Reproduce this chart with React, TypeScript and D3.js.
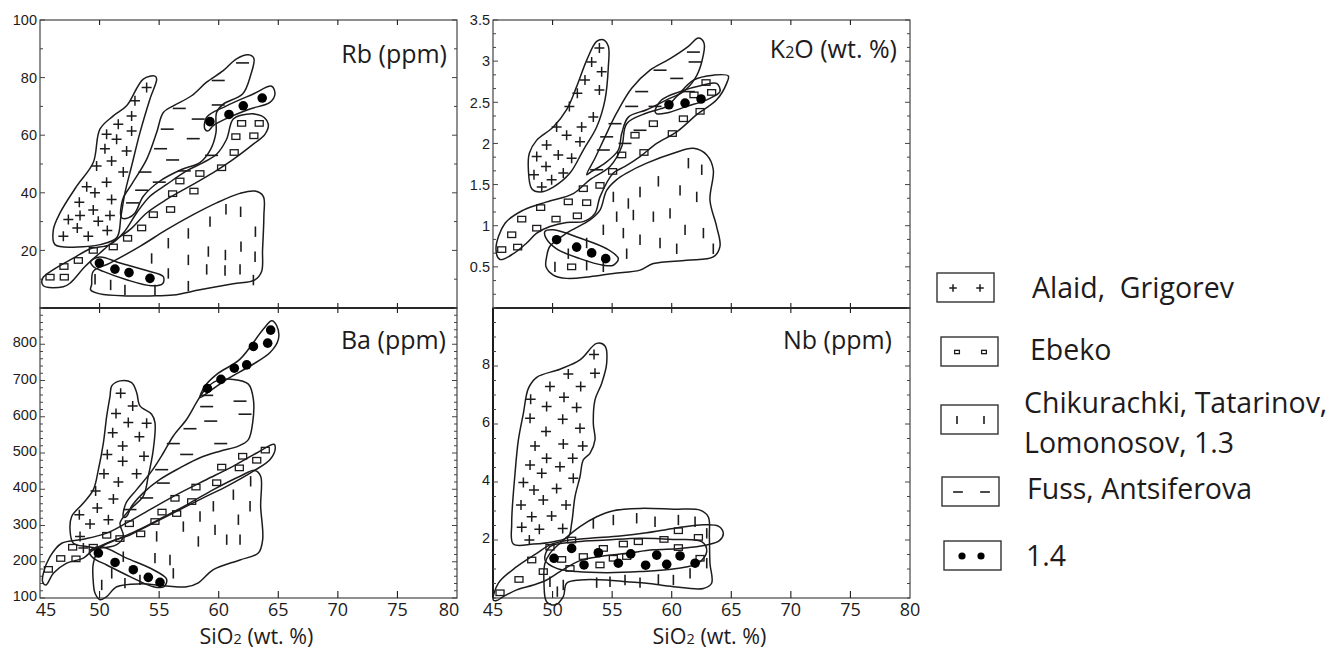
import * as d3 from 'd3'

type P = [number, number]
type Kind = 'plus' | 'square' | 'bar' | 'dash' | 'dot'

const SIO2_TICKS = [45, 50, 55, 60, 65, 70, 75, 80]

// ---- Rb (ppm) ----
const rbTicks = [20, 40, 60, 80, 100]
const rbAlaid: P[] = [[46.26, 22.0], [46.12, 27.2], [46.68, 33.0], [48.08, 42.3], [49.47, 50.5], [50.03, 62.1], [51.15, 66.7], [52.27, 70.2], [53.67, 79.5], [54.65, 80.5], [54.79, 79.5], [54.23, 72.6], [53.39, 60.9], [52.69, 49.3], [52.13, 40.0], [51.8, 32.0], [51.45, 24.5], [50.03, 22.0], [48.64, 21.3]]
const rbAlaidPts: P[] = [[53.95, 76.6], [52.97, 72.0], [52.69, 66.7], [51.57, 63.8], [52.69, 61.5], [50.59, 60.3], [51.43, 58.6], [50.45, 55.3], [52.27, 54.5], [49.75, 49.3], [51.01, 51.0], [51.99, 47.2], [50.59, 43.7], [48.92, 42.1], [49.61, 40.0], [48.3, 36.7], [51.01, 37.7], [49.47, 34.0], [48.36, 32.1], [47.38, 30.7], [50.87, 32.1], [49.89, 30.1], [48.13, 27.8], [46.96, 24.9], [49.05, 24.9], [50.65, 26.9]]
const rbFuss: P[] = [[51.85, 31.3], [51.94, 37.7], [52.69, 42.9], [53.95, 51.6], [54.79, 60.9], [55.35, 67.9], [56.19, 70.2], [57.72, 73.7], [58.98, 78.4], [60.38, 82.4], [61.5, 86.5], [62.48, 87.9], [62.95, 86.7], [62.67, 80.7], [62.0, 74.3], [60.38, 70.8], [59.82, 67.9], [59.77, 60.9], [59.32, 55.1], [58.42, 50.5], [56.88, 48.1], [55.07, 44.1], [53.67, 38.8], [52.97, 33.0], [52.41, 31.3]]
const rbFussPts: P[] = [[62.0, 85.1], [59.96, 79.0], [56.69, 69.3], [58.28, 65.6], [59.96, 70.5], [55.68, 62.1], [57.86, 58.8], [55.12, 55.3], [56.13, 51.4], [53.81, 47.2], [57.11, 47.6], [55.01, 43.7], [53.53, 40.9], [52.77, 36.5], [59.4, 53.0]]
const rbEbeko: P[] = [[45.28, 7.7], [45.22, 10.3], [46.12, 13.3], [47.8, 17.3], [49.19, 20.5], [50.87, 22.0], [51.99, 26.0], [53.11, 33.0], [54.23, 38.8], [55.63, 42.9], [57.3, 47.6], [58.7, 50.5], [59.82, 53.4], [60.66, 58.6], [61.22, 65.6], [62.34, 67.3], [63.6, 66.7], [64.16, 63.8], [63.88, 60.3], [62.9, 56.9], [61.22, 51.6], [59.54, 47.0], [57.58, 42.3], [55.63, 37.7], [53.95, 33.0], [52.55, 27.2], [51.15, 23.1], [50.03, 19.1], [48.78, 14.4], [47.52, 8.6], [46.96, 7.4]]
const rbEbekoPts: P[] = [[45.84, 10.7], [47.04, 10.7], [47.01, 14.4], [48.22, 16.5], [49.47, 20.0], [51.15, 21.2], [52.35, 24.2], [53.53, 27.8], [54.51, 32.4], [55.96, 34.2], [56.13, 39.7], [56.74, 44.1], [57.92, 40.6], [58.42, 46.7], [60.24, 48.7], [61.3, 54.0], [61.44, 59.5], [62.95, 59.8], [61.92, 64.1], [63.4, 64.1]]
const rbChik: P[] = [[49.33, 8.0], [49.47, 12.7], [50.87, 15.6], [53.39, 21.4], [55.63, 27.2], [57.86, 32.4], [59.82, 36.5], [61.78, 39.8], [63.04, 40.6], [63.74, 38.8], [63.79, 31.9], [63.68, 20.2], [63.6, 12.7], [63.04, 9.8], [61.22, 8.4], [58.42, 6.3], [56.19, 4.5], [54.23, 4.2], [52.27, 4.2], [50.03, 4.9], [49.25, 6.3]]
const rbChikPts: P[] = [[60.61, 34.3], [61.84, 33.4], [63.08, 26.5], [59.27, 30.0], [57.45, 25.9], [55.77, 22.5], [61.87, 21.3], [60.56, 18.4], [59.13, 19.6], [63.05, 17.8], [57.45, 16.7], [54.37, 17.2], [55.77, 12.0], [58.99, 13.4], [60.53, 13.0], [61.79, 13.4], [52.13, 6.3], [54.65, 6.3], [57.45, 7.6], [50.93, 8.0], [49.62, 10.0], [62.91, 9.7]]
const rbDotsLow: P[] = [[49.25, 16.2], [50.03, 17.7], [51.71, 15.6], [53.95, 13.0], [55.35, 10.9], [55.29, 8.4], [54.37, 7.7], [52.27, 9.8], [50.31, 12.7], [49.47, 14.4]]
const rbDotsHigh: P[] = [[58.84, 62.1], [58.98, 66.2], [60.66, 70.2], [62.9, 74.3], [64.44, 77.0], [64.72, 74.3], [64.3, 71.4], [62.62, 69.1], [60.66, 65.8], [59.54, 63.3], [59.12, 61.5]]
const rb14Pts: P[] = [[49.98, 15.6], [51.29, 13.5], [52.47, 12.3], [54.23, 10.3], [59.26, 64.7], [60.86, 67.2], [62.06, 70.2], [63.65, 72.9]]

// ---- K2O (wt. %) ----
const k2oTicks = [0.5, 1, 1.5, 2, 2.5, 3, 3.5]
const k2oAlaid: P[] = [[53.7, 3.24], [54.26, 3.26], [54.68, 3.18], [54.68, 2.93], [54.4, 2.53], [53.7, 2.2], [52.58, 1.92], [51.46, 1.64], [50.06, 1.47], [48.95, 1.41], [48.25, 1.45], [47.97, 1.68], [48.05, 1.88], [48.67, 2.04], [50.06, 2.2], [51.18, 2.41], [52.02, 2.69], [52.86, 3.01]]
const k2oAlaidPts: P[] = [[53.93, 3.16], [53.28, 2.99], [54.12, 2.87], [52.72, 2.77], [52.08, 2.61], [53.93, 2.65], [51.41, 2.45], [53.42, 2.32], [52.44, 2.2], [50.34, 2.2], [51.18, 2.1], [52.3, 2.02], [49.5, 1.98], [50.48, 1.86], [48.67, 1.84], [51.6, 1.82], [49.45, 1.72], [50.9, 1.64], [48.44, 1.62], [49.92, 1.56], [49.09, 1.47]]
const k2oFuss: P[] = [[52.86, 1.62], [53.56, 1.82], [54.4, 2.08], [55.38, 2.37], [56.64, 2.67], [58.18, 2.89], [59.86, 3.03], [61.4, 3.18], [62.24, 3.28], [62.71, 3.22], [62.52, 2.99], [61.96, 2.79], [60.98, 2.63], [59.58, 2.53], [57.9, 2.41], [56.36, 2.32], [55.8, 2.12], [55.52, 1.92], [54.4, 1.76], [53.28, 1.66]]
const k2oFussPts: P[] = [[61.82, 3.11], [61.96, 2.99], [59.02, 2.89], [60.42, 2.79], [57.48, 2.63], [61.4, 2.63], [56.64, 2.45], [58.6, 2.45], [55.24, 2.24], [57.34, 2.16], [54.54, 2.08], [56.08, 2.0], [54.26, 1.92], [53.7, 1.68]]
const k2oEbeko: P[] = [[45.25, 0.72], [46.01, 1.03], [47.55, 1.19], [49.5, 1.29], [51.74, 1.39], [53.14, 1.56], [54.82, 1.72], [55.8, 1.96], [56.22, 2.24], [57.9, 2.37], [59.58, 2.45], [60.42, 2.57], [61.82, 2.77], [63.49, 2.83], [64.75, 2.82], [64.61, 2.73], [63.77, 2.53], [62.1, 2.35], [60.42, 2.14], [58.74, 2.0], [57.34, 1.84], [56.08, 1.72], [55.1, 1.64], [53.98, 1.35], [53.56, 1.15], [52.58, 1.05], [51.18, 1.04], [49.78, 0.99], [48.67, 0.91], [47.83, 0.79], [46.71, 0.66], [45.59, 0.59]]
const k2oEbekoPts: P[] = [[45.73, 0.71], [47.07, 0.74], [46.57, 0.89], [48.67, 0.97], [47.41, 1.08], [50.29, 1.08], [49.0, 1.22], [52.08, 1.12], [51.32, 1.29], [52.86, 1.28], [52.58, 1.45], [53.98, 1.49], [55.04, 1.66], [55.8, 1.86], [57.67, 1.89], [56.92, 2.1], [58.46, 2.24], [60.05, 2.12], [60.98, 2.3], [62.38, 2.39], [61.87, 2.59], [63.35, 2.62], [62.88, 2.74], [51.6, 0.5]]
const k2oChik: P[] = [[49.5, 0.62], [49.78, 0.75], [51.18, 0.91], [53.14, 1.07], [53.98, 1.19], [54.54, 1.43], [55.38, 1.56], [56.22, 1.64], [57.9, 1.76], [60.14, 1.88], [61.82, 1.94], [62.94, 1.86], [63.49, 1.68], [63.21, 1.31], [63.77, 0.99], [64.05, 0.75], [63.49, 0.62], [61.26, 0.58], [58.46, 0.54], [57.34, 0.46], [55.1, 0.42], [53.14, 0.38], [51.18, 0.36], [50.06, 0.4], [49.45, 0.5]]
const k2oChikPts: P[] = [[61.4, 1.76], [62.52, 1.68], [60.7, 1.43], [62.1, 1.35], [58.88, 1.54], [57.34, 1.41], [56.36, 1.27], [55.1, 1.35], [55.38, 1.11], [56.78, 1.13], [58.46, 1.11], [59.86, 1.15], [61.12, 0.95], [62.66, 0.91], [63.49, 0.72], [60.42, 0.72], [57.34, 0.83], [55.94, 0.91], [54.26, 0.95], [52.86, 0.79], [54.26, 0.5], [52.86, 0.52], [50.2, 0.5], [51.32, 0.66], [59.02, 0.79], [56.22, 0.66]]
const k2oDotsLow: P[] = [[49.36, 0.93], [50.06, 0.95], [52.3, 0.85], [54.54, 0.72], [55.52, 0.6], [55.1, 0.52], [54.26, 0.52], [52.3, 0.6], [50.34, 0.72], [49.45, 0.85]]
const k2oDotsHigh: P[] = [[58.6, 2.39], [59.16, 2.53], [60.7, 2.63], [62.66, 2.71], [63.77, 2.73], [64.05, 2.63], [62.94, 2.53], [61.26, 2.45], [59.58, 2.37], [58.74, 2.36]]
const k2o14Pts: P[] = [[50.34, 0.83], [52.02, 0.74], [53.28, 0.67], [54.46, 0.6], [59.77, 2.47], [61.12, 2.49], [62.46, 2.54]]

// ---- Ba (ppm) ----
const baTicks = [100, 200, 300, 400, 500, 600, 700, 800]
const baAlaid: P[] = [[51.02, 685], [51.72, 699], [52.69, 694], [53.11, 667], [53.39, 630], [54.37, 607], [54.65, 584], [54.51, 510], [54.09, 436], [53.67, 381], [52.55, 344], [51.72, 307], [52.0, 270], [51.44, 247], [50.04, 238], [48.92, 242], [47.8, 251], [47.52, 288], [47.66, 325], [48.64, 362], [49.48, 399], [49.9, 454], [50.32, 528], [50.6, 602], [50.88, 657]]
const baAlaidPts: P[] = [[51.77, 665], [52.78, 630], [51.38, 609], [52.41, 584], [53.95, 582], [51.1, 556], [53.34, 545], [51.94, 519], [50.65, 496], [53.73, 491], [51.94, 477], [53.11, 443], [50.37, 443], [51.58, 420], [49.67, 395], [51.16, 373], [49.81, 348], [48.3, 330], [50.74, 316], [49.2, 304], [48.36, 270], [48.64, 238]]
const baFuss: P[] = [[52.0, 323], [52.22, 362], [53.11, 399], [54.37, 450], [55.35, 500], [56.19, 547], [57.31, 593], [58.29, 648], [58.99, 680], [59.83, 699], [61.23, 703], [62.49, 690], [62.91, 648], [62.85, 584], [62.49, 537], [61.65, 519], [60.11, 505], [58.43, 487], [56.75, 459], [55.07, 427], [53.67, 390], [52.69, 353], [52.27, 325]]
const baFussPts: P[] = [[58.99, 659], [61.79, 643], [58.99, 628], [62.21, 607], [59.33, 588], [57.59, 567], [56.19, 526], [60.17, 526], [57.31, 496], [55.21, 454], [55.35, 417], [53.95, 376], [52.55, 344]]
const baEbeko: P[] = [[45.28, 168], [45.84, 214], [46.82, 251], [48.64, 262], [50.6, 279], [52.27, 307], [54.23, 344], [56.75, 390], [58.99, 427], [61.23, 464], [63.19, 500], [64.64, 524], [64.75, 514], [64.31, 482], [62.91, 450], [60.67, 408], [58.99, 381], [56.75, 344], [54.23, 302], [52.27, 270], [51.16, 259], [49.48, 233], [48.64, 210], [47.24, 196], [46.12, 168], [45.5, 136], [45.22, 145]]
const baEbekoPts: P[] = [[45.7, 179], [46.74, 209], [48.02, 208], [47.74, 240], [50.6, 273], [51.71, 264], [52.5, 305], [53.45, 277], [54.65, 311], [55.24, 337], [56.47, 333], [56.33, 375], [57.73, 366], [58.09, 406], [59.83, 418], [60.25, 461], [61.73, 459], [62.01, 491], [63.19, 480], [63.91, 508], [49.47, 240]]
const baChik: P[] = [[49.48, 141], [49.62, 113], [50.04, 95], [50.6, 104], [51.44, 131], [53.39, 139], [55.63, 133], [57.31, 131], [58.29, 142], [59.55, 178], [61.79, 205], [63.32, 224], [63.69, 261], [63.52, 353], [63.52, 436], [63.04, 452], [61.79, 436], [59.55, 399], [57.31, 357], [55.35, 323], [53.39, 290], [51.44, 261], [50.04, 238], [49.48, 196]]
const baChikPts: P[] = [[62.68, 422], [62.63, 353], [61.23, 385], [61.65, 316], [59.55, 353], [59.69, 288], [58.43, 325], [58.29, 256], [57.03, 297], [55.91, 205], [54.65, 210], [53.39, 150], [51.99, 214], [52.13, 141], [51.02, 168], [50.18, 136], [56.19, 168], [61.79, 261], [60.67, 261], [54.79, 270]]
const baDotsLow: P[] = [[49.14, 228], [50.04, 242], [52.27, 210], [54.51, 178], [55.63, 152], [55.41, 131], [54.51, 131], [52.55, 159], [50.6, 191], [49.48, 210]]
const baDotsHigh: P[] = [[58.43, 653], [58.85, 685], [59.83, 717], [61.79, 759], [63.75, 842], [64.45, 865], [64.87, 851], [65.01, 814], [64.31, 777], [62.63, 740], [60.67, 703], [59.27, 671]]
const ba14Pts: P[] = [[49.9, 224], [51.3, 198], [52.83, 178], [54.09, 157], [55.07, 143], [59.05, 678], [60.19, 703], [61.31, 734], [62.35, 743], [62.91, 794], [64.11, 803], [64.36, 839]]

// ---- Nb (ppm) ----
const nbTicks = [2, 4, 6, 8]
const nbAlaid: P[] = [[46.71, 1.86], [46.57, 2.57], [46.85, 4.3], [47.13, 5.45], [47.55, 6.37], [47.97, 7.23], [48.67, 7.61], [50.62, 7.89], [52.3, 8.21], [53.7, 8.78], [54.4, 8.69], [54.54, 8.09], [54.12, 7.4], [53.56, 6.83], [53.42, 6.02], [53.56, 5.45], [53.14, 4.99], [52.58, 4.76], [52.3, 4.18], [51.88, 3.49], [51.6, 2.57], [51.32, 2.11], [50.06, 1.94], [48.39, 1.86]]
const nbAlaidPts: P[] = [[53.48, 8.4], [53.56, 7.75], [51.32, 7.72], [49.78, 7.29], [52.36, 7.29], [50.96, 6.92], [48.16, 6.85], [49.5, 6.6], [52.02, 6.57], [48.11, 6.2], [50.85, 6.16], [49.45, 5.74], [52.3, 5.85], [48.53, 5.24], [50.9, 5.31], [52.53, 5.24], [49.5, 4.82], [51.69, 4.82], [48.11, 4.59], [50.62, 4.53], [49.09, 4.3], [47.55, 3.98], [48.44, 3.72], [50.34, 3.78], [51.74, 4.13], [49.22, 3.38], [47.35, 3.21], [51.13, 3.21], [48.25, 2.8], [49.92, 2.83], [47.41, 2.44], [48.89, 2.37], [50.85, 2.4], [48.05, 2.0]]
const nbChik: P[] = [[49.78, 1.54], [50.62, 1.89], [52.3, 2.46], [53.7, 2.8], [55.1, 3.01], [57.34, 3.09], [60.14, 3.06], [62.38, 3.03], [63.07, 2.8], [63.16, 2.11], [63.21, 1.2], [63.35, 0.51], [62.66, 0.33], [60.14, 0.39], [57.9, 0.51], [56.22, 0.56], [54.54, 0.62], [52.3, 0.62], [51.18, 0.51], [50.9, 0.05], [50.2, -0.24], [49.5, -0.13], [49.28, 0.51], [49.36, 1.2]]
const nbChikPts: P[] = [[53.42, 2.57], [55.1, 2.69], [57.06, 2.75], [58.6, 2.63], [60.56, 2.69], [61.96, 2.63], [62.94, 2.23], [62.94, 1.2], [61.54, 0.85], [60.14, 0.62], [58.88, 0.64], [57.34, 0.53], [56.08, 0.62], [54.82, 0.56], [53.7, 0.53], [50.9, 0.45], [49.78, 0.56], [50.4, 0.22]]
const nbEbeko: P[] = [[45.03, -0.07], [45.45, 0.51], [46.99, 1.08], [48.67, 1.54], [49.78, 1.83], [51.18, 1.98], [53.14, 2.06], [55.66, 2.14], [57.9, 2.25], [60.14, 2.4], [62.38, 2.52], [63.91, 2.48], [64.33, 2.23], [64.0, 1.98], [62.94, 1.83], [60.7, 1.71], [58.46, 1.66], [56.22, 1.54], [53.98, 1.43], [52.3, 1.29], [50.62, 0.91], [49.5, 0.62], [48.39, 0.45], [46.99, 0.28], [45.87, 0.05], [45.31, -0.09]]
const nbEbekoPts: P[] = [[45.59, 0.18], [47.18, 0.64], [48.25, 1.31], [49.22, 0.91], [49.78, 1.75], [50.76, 1.33], [51.46, 1.02], [51.6, 2.0], [52.58, 1.43], [53.98, 1.14], [54.26, 1.71], [55.1, 1.37], [55.94, 1.86], [56.22, 1.43], [57.2, 1.94], [59.35, 2.02], [60.56, 2.32], [60.56, 1.74], [62.24, 2.09], [62.38, 1.37]]
const nbDots: P[] = [[49.36, 1.31], [49.78, 1.77], [52.02, 1.94], [54.54, 2.0], [57.34, 2.06], [60.13, 2.02], [62.52, 1.94], [62.94, 1.6], [62.23, 1.2], [60.42, 1.02], [57.34, 0.91], [54.54, 0.87], [52.02, 0.91], [50.35, 1.02]]
const nb14Pts: P[] = [[50.12, 1.37], [51.6, 1.71], [52.64, 1.14], [53.84, 1.56], [55.52, 1.2], [56.56, 1.52], [57.81, 1.13], [58.74, 1.48], [59.58, 1.16], [60.7, 1.45], [61.96, 1.2]]

const legendKinds: Kind[] = ['plus', 'square', 'bar', 'dash', 'dot']
const legendLabels = [['Alaid,  Grigorev'], ['Ebeko'], ['Chikurachki, Tatarinov,', 'Lomonosov, 1.3'], ['Fuss, Antsiferova'], ['1.4']]

interface Field { outline: P[]; points: P[]; kind: Kind }
interface PanelDef {
  left: number; right: number; top: number; bottom: number
  domain: [number, number]; ticks: number[]; minor: number
  title: string; sub?: string; titleRest?: string; titleX: number; titleY: number
  fields: Field[]; rings: P[][]; dots: P[]
  xLabels: boolean; leftThick?: boolean; fmt: (v: number) => string
  // nudges for the end x labels, as in the original figure
  xLabelNudge?: [number, number]
}

const panels: PanelDef[] = [
  {
    left: 40, right: 457, top: 20, bottom: 308, domain: [0, 100], ticks: rbTicks, minor: 10,
    title: 'Rb (ppm)', titleX: 447, titleY: 63, xLabels: false, fmt: d3.format('d'),
    fields: [
      { outline: rbAlaid, points: rbAlaidPts, kind: 'plus' },
      { outline: rbFuss, points: rbFussPts, kind: 'dash' },
      { outline: rbEbeko, points: rbEbekoPts, kind: 'square' },
      { outline: rbChik, points: rbChikPts, kind: 'bar' },
    ],
    rings: [rbDotsLow, rbDotsHigh], dots: rb14Pts,
  },
  {
    left: 493, right: 910, top: 20, bottom: 308, domain: [0, 3.5], ticks: k2oTicks, minor: 0.5 / 3,
    title: 'K', sub: '2', titleRest: 'O (wt. %)', titleX: 897, titleY: 58, xLabels: false, fmt: d3.format('~g'),
    fields: [
      { outline: k2oAlaid, points: k2oAlaidPts, kind: 'plus' },
      { outline: k2oFuss, points: k2oFussPts, kind: 'dash' },
      { outline: k2oEbeko, points: k2oEbekoPts, kind: 'square' },
      { outline: k2oChik, points: k2oChikPts, kind: 'bar' },
    ],
    rings: [k2oDotsLow, k2oDotsHigh], dots: k2o14Pts,
  },
  {
    left: 40, right: 457, top: 308, bottom: 598, domain: [100, 900], ticks: baTicks, minor: 20,
    title: 'Ba (ppm)', titleX: 446, titleY: 349, xLabels: true, fmt: d3.format('d'), xLabelNudge: [6, -8],
    fields: [
      { outline: baAlaid, points: baAlaidPts, kind: 'plus' },
      { outline: baFuss, points: baFussPts, kind: 'dash' },
      { outline: baEbeko, points: baEbekoPts, kind: 'square' },
      { outline: baChik, points: baChikPts, kind: 'bar' },
    ],
    rings: [baDotsLow, baDotsHigh], dots: ba14Pts,
  },
  {
    left: 493, right: 910, top: 308, bottom: 598, domain: [0, 10], ticks: nbTicks, minor: 0.5,
    title: 'Nb (ppm)', titleX: 892, titleY: 349, xLabels: true, leftThick: true, fmt: d3.format('d'),
    fields: [
      { outline: nbAlaid, points: nbAlaidPts, kind: 'plus' },
      { outline: nbChik, points: nbChikPts, kind: 'bar' },
      { outline: nbEbeko, points: nbEbekoPts, kind: 'square' },
    ],
    rings: [nbDots], dots: nb14Pts,
  },
]

const INK = '#1e1b1c'
const LABEL_FONT = '"Open Sans", "Noto Sans", sans-serif'
const TICK_FONT = '"Liberation Sans", Arial, sans-serif'

function Mark({ kind, x, y, s = 1 }: { kind: Kind; x: number; y: number; s?: number }) {
  if (kind === 'plus') {
    const a = 5 * s
    return <path d={`M${x - a},${y}H${x + a}M${x},${y - a}V${y + a}`} stroke={INK} strokeWidth={1.5} />
  }
  if (kind === 'square') {
    const w = 8 * s, h = 5.5 * s
    return <rect x={x - w / 2} y={y - h / 2} width={w} height={h} fill="none" stroke={INK} strokeWidth={1.3} />
  }
  if (kind === 'bar') {
    const h = 5.2 * s
    return <path d={`M${x},${y - h}V${y + h}`} stroke={INK} strokeWidth={1.6} />
  }
  if (kind === 'dash') {
    const w = 6.5 * s
    return <path d={`M${x - w},${y}H${x + w}`} stroke={INK} strokeWidth={1.6} />
  }
  return <circle cx={x} cy={y} r={4.8 * s} fill="#000" />
}

function Panel({ p }: { p: PanelDef }) {
  const x = d3.scaleLinear().domain([45, 80]).range([p.left, p.right])
  const y = d3.scaleLinear().domain(p.domain).range([p.bottom, p.top])
  const line = d3.line<P>().x(d => x(d[0])).y(d => y(d[1])).curve(d3.curveCatmullRomClosed.alpha(0.5))
  const minorTicks = d3.range(p.domain[0], p.domain[1] + 1e-6, p.minor)
  const isTop = p.top < 100
  const nudge = p.xLabelNudge ?? [0, 0]

  return (
    <g>
      {/* frame */}
      <rect x={p.left} y={p.top} width={p.right - p.left} height={p.bottom - p.top} fill="none" stroke="#333" strokeWidth={1.1} />
      {isTop && <line x1={p.left} x2={p.right} y1={p.bottom} y2={p.bottom} stroke={INK} strokeWidth={2.2} />}
      {p.leftThick && <line x1={p.left} x2={p.left} y1={p.top} y2={p.bottom} stroke={INK} strokeWidth={2} />}

      {/* y ticks on both sides */}
      {minorTicks.map((t, i) => {
        const major = p.ticks.some(v => Math.abs(v - t) < 1e-6)
        const len = major ? 5 : 3
        return (
          <g key={'m' + i} stroke="#444" strokeWidth={1}>
            <line x1={p.left} x2={p.left + len} y1={y(t)} y2={y(t)} />
            <line x1={p.right} x2={p.right - len} y1={y(t)} y2={y(t)} />
          </g>
        )
      })}
      {p.ticks.map(t => (
        <text key={'t' + t} x={p.left - 3} y={y(t) - (isTop ? 0 : 2)} dy="0.36em" textAnchor="end"
          fontFamily={TICK_FONT} fontSize={14.5} fill={INK}>{p.fmt(t)}</text>
      ))}

      {/* x ticks */}
      {SIO2_TICKS.slice(1, -1).map(t => (
        <g key={'x' + t} stroke={INK} strokeWidth={1.1}>
          {isTop ? (
            <>
              <line x1={x(t)} x2={x(t)} y1={p.top} y2={p.top + 5} />
              <line x1={x(t)} x2={x(t)} y1={p.bottom - 5} y2={p.bottom + 5} />
            </>
          ) : (
            <line x1={x(t)} x2={x(t)} y1={p.bottom} y2={p.bottom - 7} />
          )}
        </g>
      ))}
      {p.xLabels && SIO2_TICKS.map((t, i) => (
        <text key={'xl' + t}
          x={x(t) + (i === 0 ? nudge[0] : i === SIO2_TICKS.length - 1 ? nudge[1] : 0)}
          y={616} textAnchor="middle" fontFamily={LABEL_FONT} fontSize={18} fill={INK}>{t}</text>
      ))}
      {p.xLabels && (
        <text x={(p.left + p.right) / 2 + 8} y={644} textAnchor="middle"
          fontFamily={LABEL_FONT} fontSize={21.5} fill={INK}>
          SiO<tspan fontSize={14.5}>2</tspan> (wt. %)
        </text>
      )}

      {/* fields */}
      {p.fields.map((f, i) => (
        <g key={'f' + i}>
          <path d={line(f.outline) ?? ''} fill="none" stroke={INK} strokeWidth={1.5} />
          {f.points.map((d, j) => <Mark key={j} kind={f.kind} x={x(d[0])} y={y(d[1])} />)}
        </g>
      ))}
      {p.rings.map((r, i) => (
        <path key={'r' + i} d={line(r) ?? ''} fill="none" stroke={INK} strokeWidth={1.5} />
      ))}
      {p.dots.map((d, j) => <Mark key={'d' + j} kind="dot" x={x(d[0])} y={y(d[1])} />)}

      {/* title */}
      <text x={p.titleX} y={p.titleY} textAnchor="end" fontFamily={LABEL_FONT} fontSize={25} fill={INK}>
        {p.title}
        {p.sub && <tspan fontSize={16}>{p.sub}</tspan>}
        {p.titleRest}
      </text>
    </g>
  )
}

const legendLayout = [
  { bx: 937, by: 273, tx: 1032, ty: 298 },
  { bx: 941, by: 337, tx: 1030, ty: 360 },
  { bx: 941, by: 405, tx: 1024, ty: 413 },
  { bx: 942, by: 477, tx: 1027, ty: 499 },
  { bx: 944, by: 541, tx: 1026, ty: 566 },
]

export default function App() {
  return (
    <svg width={1336} height={652} style={{ position: 'absolute', left: 0, top: 0, background: '#fff' }}>
      <rect width={1336} height={652} fill="#fff" />
      {panels.map((p, i) => <Panel key={i} p={p} />)}

      {legendKinds.map((k, i) => {
        const L = legendLayout[i]
        const offs = k === 'dot' ? [18, 37] : [16, 43]
        return (
          <g key={k}>
            <rect x={L.bx} y={L.by} width={57} height={29} fill="none" stroke="#333" strokeWidth={1.4} />
            {offs.map(o => <Mark key={o} kind={k} x={L.bx + o} y={L.by + 15} s={k === 'square' ? 0.6 : 0.75} />)}
            <text x={L.tx} y={L.ty} fontFamily={LABEL_FONT} fontSize={28.5} fill={INK} style={{ whiteSpace: 'pre' }}>
              {legendLabels[i].map((s, j) => (
                <tspan key={j} x={L.tx} dy={j === 0 ? 0 : 40}>{s}</tspan>
              ))}
            </text>
          </g>
        )
      })}
    </svg>
  )
}
